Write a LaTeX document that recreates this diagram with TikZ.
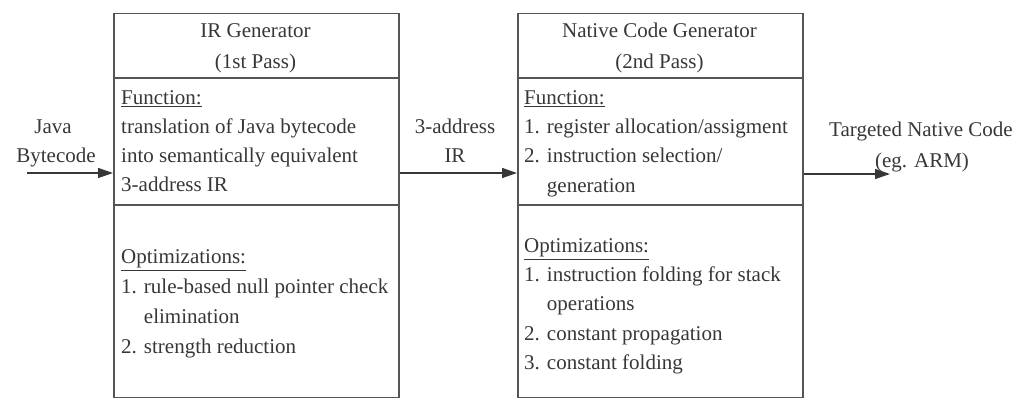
\documentclass[tikz,border=0pt]{standalone}
\usepackage{fontspec}
\setmainfont{Liberation Serif}
\usetikzlibrary{arrows.meta}
\definecolor{ink}{RGB}{55,55,55}
\definecolor{rule}{RGB}{85,85,85}
\begin{document}
\begin{tikzpicture}[x=1pt,y=-1pt,
  boxst/.style={draw=rule, line width=1.5pt, minimum width=285pt, minimum height=384pt, anchor=north west, inner sep=0pt},
  divider/.style={draw=rule, line width=1.5pt},
  txt/.style={font=\fontsize{21}{29}\selectfont, text=ink, inner sep=0pt},
  lt/.style={txt, anchor=base west},
  ct/.style={txt, anchor=base},
  arr/.style={draw=ink, line width=1.4pt, -{Triangle[length=15pt,width=10pt]}},
  ]
\useasboundingbox (0,0) rectangle (1031,398);
% boxes
\node[boxst] (ir) at (113,13) {};
\node[boxst] (nc) at (517,13) {};
\draw[divider] (ir.west |- 0,78) -- (ir.east |- 0,78);
\draw[divider] (ir.west |- 0,205) -- (ir.east |- 0,205);
\draw[divider] (nc.west |- 0,78) -- (nc.east |- 0,78);
\draw[divider] (nc.west |- 0,205) -- (nc.east |- 0,205);
% IR generator texts
\node[ct] (irt1) at (255.5,38) {IR Generator};
\node[ct] (irt2) at (255.5,69) {(1st Pass)};
\node[lt] (irf0) at (121,105) {\underline{Function:}};
\node[lt] (irf1) at (121,134) {translation of Java bytecode};
\node[lt] (irf2) at (121,163) {into semantically equivalent};
\node[lt] (irf3) at (121,192) {3-address IR};
\node[lt] (iro0) at (121,264) {\underline{Optimizations:}};
\node[lt] (iro1) at (121,294) {1. rule-based null pointer check};
\node[lt] (iro2) at (121,323) {\phantom{1. }elimination};
\node[lt] (iro3) at (121,353) {2. strength reduction};
% Native code generator texts
\node[ct] (nct1) at (659.5,38) {Native Code Generator};
\node[ct] (nct2) at (659.5,69) {(2nd Pass)};
\node[lt] (ncf0) at (524,105) {\underline{Function:}};
\node[lt] (ncf1) at (524,134) {1. register allocation/assigment};
\node[lt] (ncf2) at (524,163) {2. instruction selection/};
\node[lt] (ncf3) at (524,193) {\phantom{1. }generation};
\node[lt] (nco0) at (524,253) {\underline{Optimizations:}};
\node[lt] (nco1) at (524,281) {1. instruction folding for stack};
\node[lt] (nco2) at (524,310) {\phantom{1. }operations};
\node[lt] (nco3) at (524,340) {2. constant propagation};
\node[lt] (nco4) at (524,369) {3. constant folding};
% arrow labels
\node[ct] (jv1) at (53,134) {Java};
\node[ct] (jv2) at (56,163) {Bytecode};
\node[ct] (ad1) at (455,134) {3-address};
\node[ct] (ad2) at (455,163) {IR};
\node[ct] (tn1) at (921,137) {Targeted Native Code};
\node[ct] (tn2) at (922,168) {(eg. ARM)};
% connectors
\coordinate (jstart) at (27,173);
\coordinate (tend) at (890,174);
\draw[arr] (jstart) -- (jstart -| ir.west);
\draw[arr] (ir.east |- 0,173) -- (nc.west |- 0,173);
\draw[arr] (nc.east |- tend) -- (tend);
\end{tikzpicture}
\end{document}
